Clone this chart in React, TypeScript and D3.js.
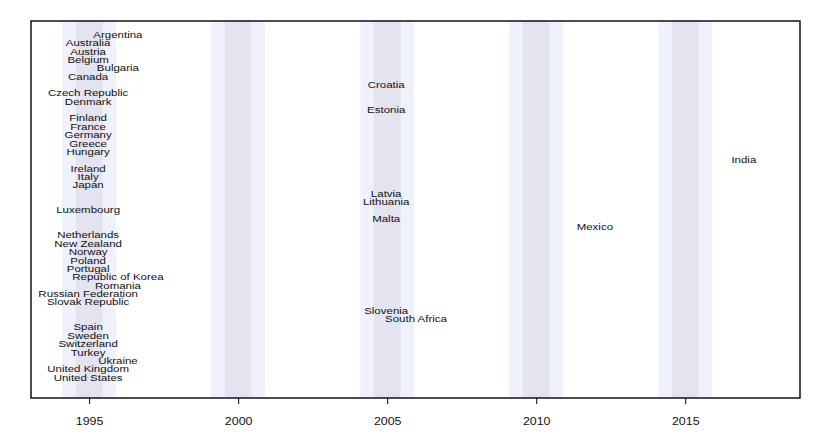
import * as d3 from "d3";
import {useEffect, useRef} from "react";

const countries = [
	"Argentina", "Australia", "Austria", "Belgium", "Bulgaria", "Canada",
	"Croatia", "Czech Republic", "Denmark", "Estonia", "Finland", "France",
	"Germany", "Greece", "Hungary", "India", "Ireland", "Italy", "Japan",
	"Latvia", "Lithuania", "Luxembourg", "Malta", "Mexico", "Netherlands",
	"New Zealand", "Norway", "Poland", "Portugal", "Republic of Korea",
	"Romania", "Russian Federation", "Slovak Republic", "Slovenia",
	"South Africa", "Spain", "Sweden", "Switzerland", "Turkey", "Ukraine",
	"United Kingdom", "United States",
];
const years = [
	1996, 1995, 1995, 1995, 1996, 1995,
	2005, 1995, 1995, 2005, 1995, 1995,
	1995, 1995, 1995, 2017, 1995, 1995, 1995,
	2005, 2005, 1995, 2005, 2012, 1995,
	1995, 1995, 1995, 1995, 1996,
	1996, 1995, 1995, 2005,
	2006, 1995, 1995, 1995, 1995, 1996,
	1995, 1995,
];
const waves = [1995, 2000, 2005, 2010, 2015];
const tickYears = [1995, 2000, 2005, 2010, 2015];

const W = 830;
const H = 436;
const FONT = "'Liberation Sans', Arial, Helvetica, sans-serif";

const App = () => {
	const svgRef = useRef(null);

	useEffect(() => {
		const svg = d3.select(svgRef.current);
		svg.selectAll("*").remove();

		const left = 31, right = 800, top = 21, bottom = 398;

		const x = d3.scaleLinear().domain([1993.05, 2018.85]).range([left, right]);
		const y = d3.scaleLinear().domain([1, countries.length]).range([34.3, 377]);

		// wave bands: wide pale band, narrower darker core
		const bands = svg.append("g");
		bands.selectAll("rect.outer")
			.data(waves)
			.join("rect")
			.attr("class", "outer")
			.attr("x", (d) => x(d - 0.9))
			.attr("width", (d) => x(d + 0.9) - x(d - 0.9))
			.attr("y", top)
			.attr("height", bottom - top)
			.attr("fill", "#eff1fd");
		bands.selectAll("rect.inner")
			.data(waves)
			.join("rect")
			.attr("class", "inner")
			.attr("x", (d) => x(d - 0.45))
			.attr("width", (d) => x(d + 0.45) - x(d - 0.45))
			.attr("y", top)
			.attr("height", bottom - top)
			.attr("fill", "#e4e4f1");

		// labels are short and wide in the original, so squash them vertically
		svg.append("g")
			.selectAll("text")
			.data(countries)
			.join("text")
			.attr("transform", (_, i) => `translate(${x(years[i]) - 1},${y(i + 1)}) scale(1.16,1)`)
			.attr("dy", "0.36em")
			.attr("text-anchor", "middle")
			.attr("font-family", FONT)
			.attr("font-size", "9.9px")
			.attr("fill", "#111")
			.text((d) => d);

		// frame
		svg.append("rect")
			.attr("x", left)
			.attr("y", top)
			.attr("width", right - left)
			.attr("height", bottom - top)
			.attr("fill", "none")
			.attr("stroke", "#000")
			.attr("stroke-width", 1.4);

		const axis = d3.axisBottom(x)
			.tickValues(tickYears)
			.tickFormat(d3.format("d"))
			.tickSize(6)
			.tickPadding(13);
		const g = svg.append("g")
			.attr("transform", `translate(0,${bottom})`)
			.call(axis);
		g.select(".domain").remove();
		g.selectAll("line").attr("stroke", "#000");
		g.selectAll("text")
			.attr("font-family", FONT)
			.attr("font-size", "11.5px")
			.attr("transform", "scale(1.08,1)")
			.attr("fill", "#111");
	}, []);

	return (
		<svg
			ref={svgRef}
			width={W}
			height={H}
			style={{position: "absolute", left: 0, top: 0, background: "#fff"}}
		></svg>
	);
};

export default App;
